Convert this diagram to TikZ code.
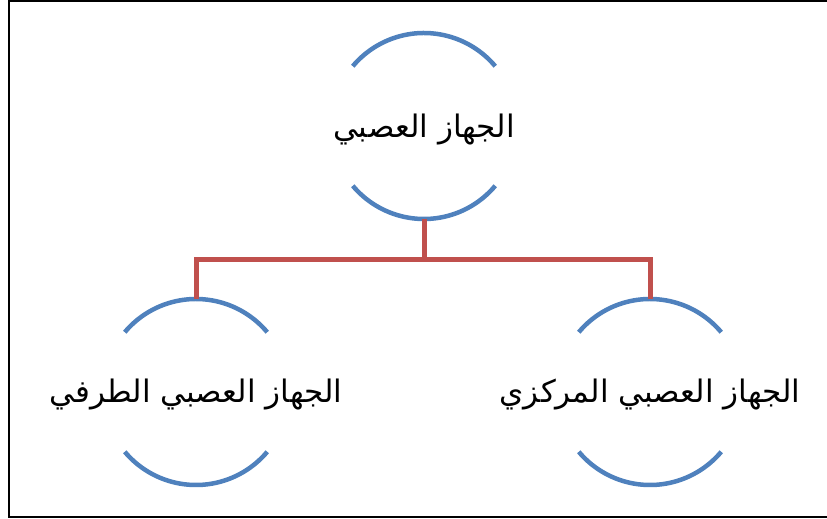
\documentclass[tikz,border=0pt]{standalone}
\usepackage{fontspec}
\TeXXeTstate=1
\newfontfamily\arabicfont[Script=Arabic]{DejaVu Sans}
\usetikzlibrary{calc}
\definecolor{ringblue}{HTML}{4F81BD}
\definecolor{linkred}{HTML}{C0504D}
\tikzset{
  ring/.style={circle, minimum size=186pt, inner sep=0pt, outer sep=0pt, draw=none},
  lbl/.style={font=\arabicfont\fontsize{31}{36}\selectfont, inner sep=0pt},
  arcline/.style={draw=ringblue, line width=4.5pt},
  conn/.style={draw=linkred, line width=5pt},
  frame/.style={draw=black, line width=2pt}
}
\begin{document}
\begin{tikzpicture}[x=1pt,y=1pt]
\useasboundingbox (0,0) rectangle (827,519);
\draw[frame] (830,518) -- (9,518) -- (9,2) -- (830,2);
% rings
\node[ring] (top) at (424,393) {};
\node[ring] (left) at (196,127) {};
\node[ring] (right) at (650,127) {};
\foreach \r in {top,left,right}{
  \draw[arcline] (\r.40) arc[start angle=40, end angle=140, radius=93pt];
  \draw[arcline] (\r.220) arc[start angle=220, end angle=320, radius=93pt];
}
% labels
\node[lbl] (toptext) at ($(top)+(0,-4)$) {\beginR الجهاز العصبي\endR};
\node[lbl] (lefttext) at ($(left)+(0,-3)$) {\beginR الجهاز العصبي الطرفي\endR};
\node[lbl] (righttext) at ($(right)+(0,-3)$) {\beginR الجهاز العصبي المركزي\endR};
% connectors
\coordinate (bus) at ($(top.south)+(0,-41)$);
\draw[conn] (top.south) -- (bus);
\draw[conn] (left.north) |- (bus) -| (right.north);
\end{tikzpicture}
\end{document}
